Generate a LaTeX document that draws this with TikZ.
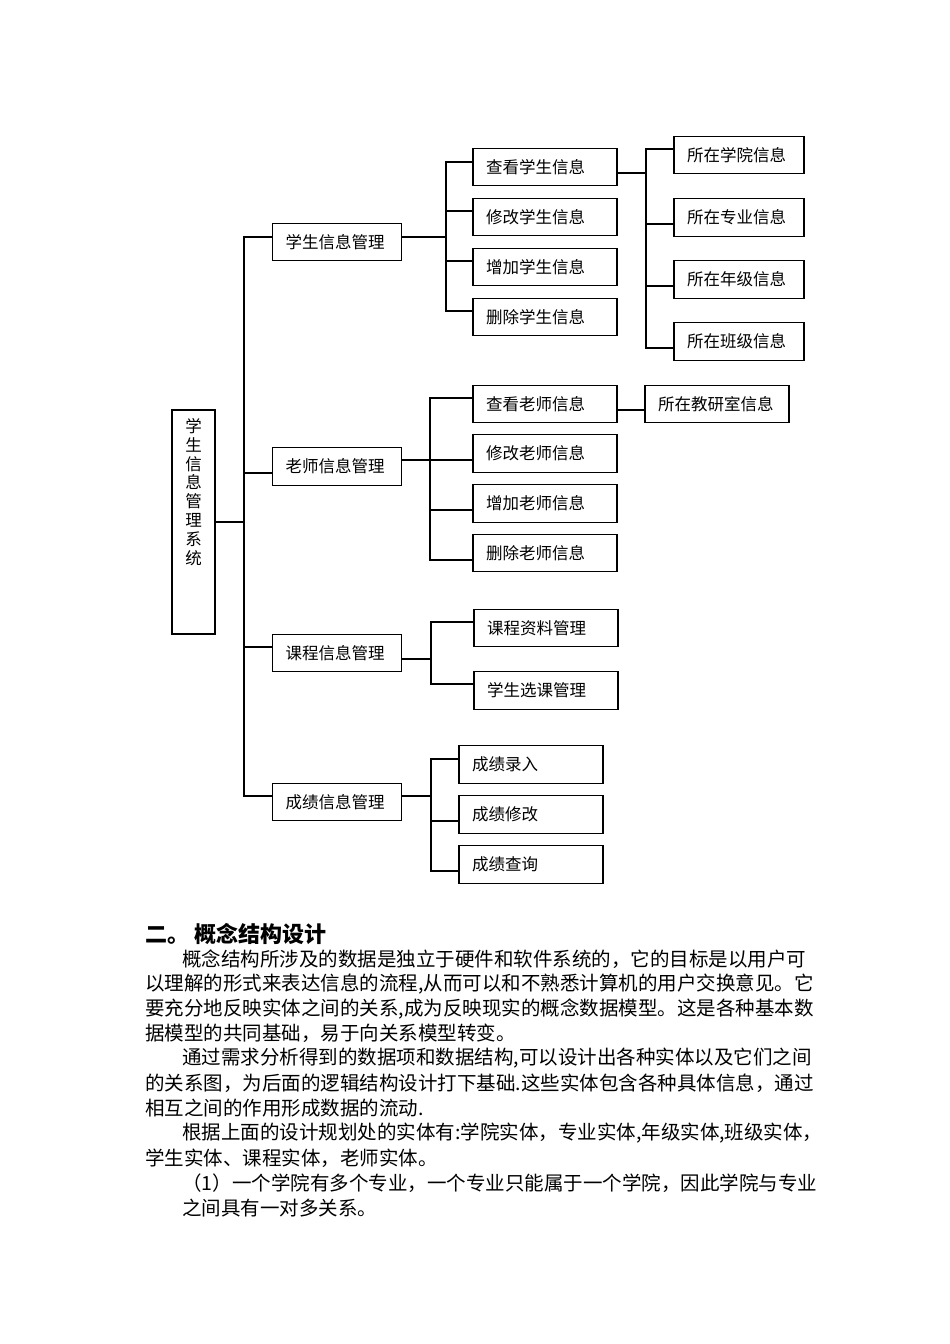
\documentclass[tikz,border=0pt]{standalone}
\usepackage{fontspec}
\setmainfont{Noto Sans CJK SC}
\XeTeXinterchartokenstate=1
\XeTeXinterchartoks 1 1 = {\hskip 0pt plus 1pt minus 2pt}
\XeTeXinterchartoks 1 3 = {\hskip 0pt plus 1pt minus 2pt}
\XeTeXinterchartoks 3 1 = {\hskip 0pt plus 1pt minus 2pt}
\XeTeXinterchartoks 0 1 = {\hskip 0pt plus 1pt minus 2pt}
\XeTeXinterchartoks 1 0 = {\hskip 0pt plus 1pt minus 2pt}
\XeTeXinterchartoks 2 1 = {\hskip 0pt plus 1pt minus 2pt}
\XeTeXinterchartoks 1 2 = {\hskip 0pt plus 1pt minus 2pt}
\XeTeXinterchartoks 2 0 = {\hskip 0pt plus 1pt minus 2pt}
\XeTeXinterchartoks 0 3 = {\hskip 0pt plus 1pt minus 2pt}
\newcommand\myconn[3]{\draw[ln] ([yshift=#2pt]#1) -- ([yshift=#2pt]#1 -| #3);}
\begin{document}
\begin{tikzpicture}[x=1pt,y=-1pt,
  every node/.style={font=\fontsize{16.5}{19}\selectfont},
  box/.style={draw, line width=1.3pt, inner xsep=13pt, inner ysep=0pt,
    minimum height=37.5pt, align=left, text width=#1},
  ln/.style={line width=1.3pt, line cap=rect},
  body/.style={anchor=west, inner sep=0pt, font=\fontsize{19.5}{24}\selectfont}]
\fill[white] (0,0) rectangle (950,1344);
\useasboundingbox (0,0) rectangle (950,1344);

% root
\node[draw, line width=1.3pt, minimum width=43pt, minimum height=224pt, inner sep=0pt] (root) at (193.5,522) {};
\node[anchor=north, inner sep=0pt, align=center, font=\fontsize{16.5}{18.8}\selectfont] (rootlbl) at ([yshift=-9pt]root.north) {学\\生\\信\\息\\管\\理\\系\\统};

% level 1
\node[box=103pt] (s) at (337,242) {学生信息管理};
\node[box=103pt] (t) at (337,466.5) {老师信息管理};
\node[box=103pt] (c) at (337,653) {课程信息管理};
\node[box=103pt] (g) at (337,802) {成绩信息管理};

% student level 2
\node[box=118pt] (sa) at (545,167) {查看学生信息};
\node[box=118pt] (sb) at (545,217) {修改学生信息};
\node[box=118pt] (sc) at (545,267) {增加学生信息};
\node[box=118pt] (sd) at (545,317) {删除学生信息};
% student level 3
\node[box=104pt] (sA) at (739,155) {所在学院信息};
\node[box=104pt] (sB) at (739,217.5) {所在专业信息};
\node[box=104pt] (sC) at (739,279.5) {所在年级信息};
\node[box=104pt] (sD) at (739,341.5) {所在班级信息};

% teacher
\node[box=118pt] (ta) at (545,404) {查看老师信息};
\node[box=118pt] (tb) at (545,453.5) {修改老师信息};
\node[box=118pt] (tc) at (545,503.5) {增加老师信息};
\node[box=118pt] (td) at (545,553) {删除老师信息};
\node[box=118pt] (tE) at (717,404) {所在教研室信息};

% course
\node[box=118pt] (ca) at (546,628) {课程资料管理};
\node[box=118pt] (cb) at (546,690.5) {学生选课管理};

% grade
\node[box=118pt] (ga) at (531,764.5) {成绩录入};
\node[box=118pt] (gb) at (531,814.5) {成绩修改};
\node[box=118pt] (gc) at (531,864.5) {成绩查询};

% bus coordinates
\coordinate (b0) at (244,0);
\coordinate (b1) at (446,0);
\coordinate (b2) at (646,0);
\coordinate (b3) at (430,0);
\coordinate (b4) at (431,0);

% root to main bus
\myconn{root.east}{0}{b0}
\myconn{s.west}{5}{b0}
\myconn{t.west}{-6.5}{b0}
\myconn{c.west}{6}{b0}
\myconn{g.west}{6}{b0}
\draw[ln] ([yshift=5pt]s.west -| b0) -- ([yshift=6pt]g.west -| b0);

% student
\myconn{s.east}{5}{b1}
\myconn{sa.west}{5}{b1}
\myconn{sb.west}{6}{b1}
\myconn{sc.west}{6}{b1}
\myconn{sd.west}{6}{b1}
\draw[ln] ([yshift=5pt]sa.west -| b1) -- ([yshift=6pt]sd.west -| b1);
\myconn{sa.east}{-6}{b2}
\myconn{sA.west}{6}{b2}
\myconn{sB.west}{-6.5}{b2}
\myconn{sC.west}{-6.5}{b2}
\myconn{sD.west}{-6.5}{b2}
\draw[ln] ([yshift=6pt]sA.west -| b2) -- ([yshift=-6.5pt]sD.west -| b2);

% teacher
\myconn{t.east}{6.5}{b3}
\myconn{ta.west}{6}{b3}
\myconn{tb.west}{-6.5}{b3}
\myconn{tc.west}{-6.5}{b3}
\myconn{td.west}{-7}{b3}
\draw[ln] ([yshift=6pt]ta.west -| b3) -- ([yshift=-7pt]td.west -| b3);
\draw[ln] ([yshift=-6pt]ta.east) -- ([yshift=-6pt]tE.west);

% course
\myconn{c.east}{-6}{b4}
\myconn{ca.west}{6}{b4}
\myconn{cb.west}{6.5}{b4}
\draw[ln] ([yshift=6pt]ca.west -| b4) -- ([yshift=6.5pt]cb.west -| b4);

% grade
\myconn{g.east}{6}{b4}
\myconn{ga.west}{5.5}{b4}
\myconn{gb.west}{-6.5}{b4}
\myconn{gc.west}{-6.5}{b4}
\draw[ln] ([yshift=5.5pt]ga.west -| b4) -- ([yshift=-6.5pt]gc.west -| b4);

% text below
\node[body, font=\fontsize{22}{24}\selectfont\bfseries] (p0) at (145,934) {二。 概念结构设计};
\node[body] (p1) at (182,959) {\makebox[623pt][s]{概念结构所涉及的数据是独立于硬件和软件系统的，它的目标是以用户可}};
\node[body] (p2) at (145,984) {\makebox[660pt][s]{以理解的形式来表达信息的流程,从而可以和不熟悉计算机的用户交换意见。它}};
\node[body] (p3) at (145,1009) {\makebox[660pt][s]{要充分地反映实体之间的关系,成为反映现实的概念数据模型。这是各种基本数}};
\node[body] (p4) at (145,1033) {据模型的共同基础，易于向关系模型转变。};
\node[body] (p5) at (182,1058) {\makebox[623pt][s]{通过需求分析得到的数据项和数据结构,可以设计出各种实体以及它们之间}};
\node[body] (p6) at (145,1083) {\makebox[660pt][s]{的关系图，为后面的逻辑结构设计打下基础.这些实体包含各种具体信息，通过}};
\node[body] (p7) at (145,1108) {相互之间的作用形成数据的流动.};
\node[body] (p8) at (182,1133) {\makebox[626pt][s]{根据上面的设计规划处的实体有:学院实体，专业实体,年级实体,班级实体，}};
\node[body] (p9) at (145,1158) {学生实体、课程实体，老师实体。};
\node[body] (p10) at (182,1183) {\makebox[623pt][s]{（1）一个学院有多个专业，一个专业只能属于一个学院，因此学院与专业}};
\node[body] (p11) at (182,1208) {之间具有一对多关系。};
\end{tikzpicture}
\end{document}
